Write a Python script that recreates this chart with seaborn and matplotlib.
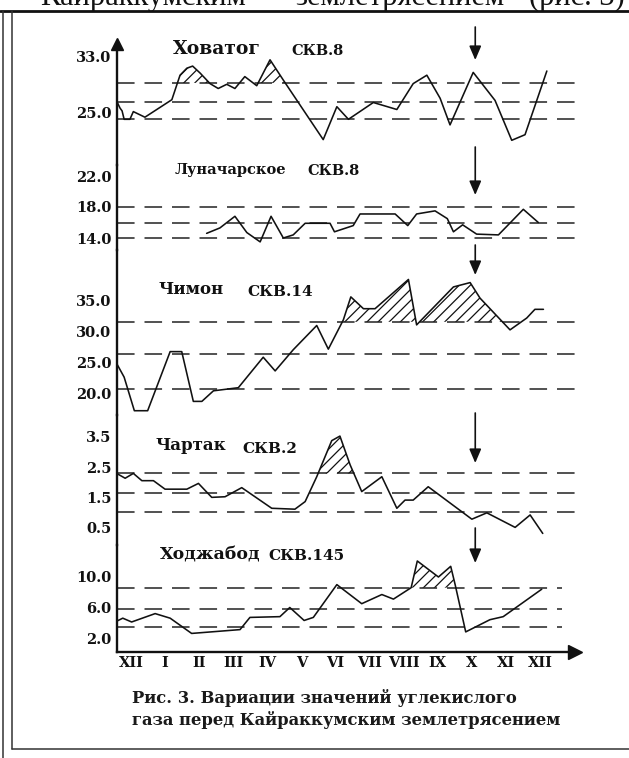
import matplotlib
matplotlib.use("Agg")
import matplotlib.pyplot as plt
from matplotlib.lines import Line2D
import seaborn as sns
import numpy as np

# ---------------- data ----------------
month_labels = ["XII", "I", "II", "III", "IV", "V", "VI", "VII", "VIII", "IX", "X", "XI", "XII"]
quake_month = 10.6

hov_t = [0.10, 0.18, 0.24, 0.30, 0.47, 0.57, 0.91, 1.70, 1.94, 2.14, 2.31, 2.53, 2.82, 3.06, 3.31,
         3.55, 3.84, 4.19, 4.58, 4.97, 6.14, 6.54, 6.88, 7.61, 8.30, 8.78, 9.18, 9.57, 9.86, 10.54,
         11.18, 11.67, 12.06, 12.70]
hov_v = [26.5, 25.7, 25.3, 24.1, 24.1, 25.2, 24.4, 26.9, 30.4, 31.4, 31.7, 30.7, 29.2, 28.5, 29.1,
         28.5, 30.2, 28.9, 32.6, 29.7, 21.2, 25.9, 24.1, 26.5, 25.5, 29.2, 30.4, 27.1, 23.3, 30.8,
         26.8, 21.1, 21.9, 31.0]
hov_levels = [29.3, 26.6, 24.1]
hov_hatch = [(1.5, 3.0), (4.3, 6.5)]

lun_t = [2.72, 3.11, 3.55, 3.90, 4.29, 4.61, 4.97, 5.26, 5.61, 6.34, 6.47, 7.02, 7.22, 8.25, 8.62,
         8.88, 9.42, 9.78, 9.96, 10.23, 10.64, 11.28, 12.01, 12.45]
lun_v = [14.6, 15.3, 16.8, 14.7, 13.5, 16.8, 14.0, 14.4, 15.9, 15.9, 14.8, 15.6, 17.1, 17.1, 15.6,
         17.1, 17.5, 16.5, 14.8, 15.7, 14.5, 14.4, 17.7, 16.0]
lun_levels = [18.0, 16.0, 14.0]
lun_hatch = []

chi_t = [0.08, 0.30, 0.60, 0.99, 1.65, 1.99, 2.33, 2.58, 2.92, 3.65, 4.38, 4.73, 5.26, 5.95, 6.29,
         6.73, 6.95, 7.32, 7.66, 8.64, 8.88, 9.96, 10.45, 10.74, 11.62, 12.11, 12.35, 12.60]
chi_v = [24.8, 22.6, 17.2, 17.2, 26.7, 26.7, 18.7, 18.7, 20.4, 20.9, 25.8, 23.6, 27.0, 30.9, 27.1,
         31.8, 35.5, 33.6, 33.6, 38.3, 31.0, 37.1, 37.8, 35.3, 30.2, 32.1, 33.5, 33.5]
chi_levels = [31.5, 26.3, 20.7]
chi_hatch = [(6.0, 11.5)]

cha_t = [0.08, 0.33, 0.57, 0.82, 1.16, 1.50, 2.14, 2.48, 2.87, 3.26, 3.75, 4.63, 5.31, 5.61, 5.95,
         6.39, 6.63, 6.93, 7.27, 7.86, 8.30, 8.54, 8.78, 9.22, 10.50, 10.94, 11.77, 12.21, 12.58]
cha_v = [2.30, 2.14, 2.30, 2.06, 2.06, 1.78, 1.78, 1.97, 1.51, 1.53, 1.83, 1.15, 1.12, 1.37, 2.19,
         3.38, 3.53, 2.58, 1.70, 2.19, 1.15, 1.42, 1.42, 1.86, 0.79, 1.00, 0.52, 0.93, 0.32]
cha_levels = [2.30, 1.66, 1.04]
cha_hatch = [(5.5, 7.5)]

kho_t = [0.08, 0.26, 0.52, 1.21, 1.65, 2.28, 3.70, 3.99, 4.87, 5.16, 5.58, 5.85, 6.54, 7.27, 7.86,
         8.20, 8.72, 8.90, 9.52, 9.88, 10.01, 10.32, 11.03, 11.42, 12.55]
kho_v = [4.2, 4.6, 4.1, 5.2, 4.6, 2.6, 3.1, 4.7, 4.8, 6.0, 4.3, 4.7, 9.0, 6.5, 7.7,
         7.1, 8.6, 12.1, 10.0, 11.4, 9.0, 2.8, 4.4, 4.8, 8.4]
kho_levels = [8.6, 5.8, 3.5]
kho_hatch = [(8.0, 11.0)]

# ---------------- style ----------------
sns.set_style("white")
plt.rcParams["font.family"] = ["DejaVu Serif"]
plt.rcParams["hatch.linewidth"] = 0.9
plt.rcParams["hatch.color"] = "#111111"
INK = "#111111"

W, H = 629, 758
X0, DX = 113.9, 34.09          # pixel of month 0 and pixels per month
AX_L, AX_R = 117, 575


def fx(px):
    return px / W


def fy(py):
    return 1 - py / H


fig = plt.figure(figsize=(W / 100, H / 100), dpi=100)
fig.patch.set_facecolor("white")

panels = [
    dict(t=hov_t, v=hov_v, levels=hov_levels, hatch=hov_hatch, end=583,
         ref=(33.0, 57, 7.0), top=44, bot=165,
         ticks=[33.0, 31.3, 25.0, 22.3], labels=["33.0", "", "25.0", ""],
         name=("Ховатог", 217, 49, 13.5), well=("СКВ.8", 318, 51, 10.5), arrow=(27, 60)),
    dict(t=lun_t, v=lun_v, levels=lun_levels, hatch=lun_hatch, end=580,
         ref=(18.0, 207, 7.75), top=165, bot=250,
         ticks=[22, 20, 18, 16, 14], labels=["22.0", "", "18.0", "", "14.0"],
         name=("Луначарское", 230, 170, 10.5), well=("СКВ.8", 333, 171, 10.5), arrow=(147, 195)),
    dict(t=chi_t, v=chi_v, levels=chi_levels, hatch=chi_hatch, end=583,
         ref=(35.0, 300, 6.22), top=250, bot=415,
         ticks=[35, 30, 25, 20], labels=["35.0", "30.0", "25.0", "20.0"],
         name=("Чимон", 191, 289, 12), well=("СКВ.14", 280, 292, 11), arrow=(245, 275)),
    dict(t=cha_t, v=cha_v, levels=cha_levels, hatch=cha_hatch, end=578,
         ref=(3.5, 437, 30.33), top=415, bot=545,
         ticks=[3.5, 3.0, 2.5, 2.0, 1.5, 1.0, 0.5], labels=["3.5", "", "2.5", "", "1.5", "", "0.5"],
         name=("Чартак", 191, 445, 12), well=("СКВ.2", 270, 449, 11), arrow=(413, 463)),
    dict(t=kho_t, v=kho_v, levels=kho_levels, hatch=kho_hatch, end=562,
         ref=(10.0, 577, 7.625), top=545, bot=652,
         ticks=[12, 10, 8, 6, 4, 2], labels=["", "10.0", "", "6.0", "", "2.0"],
         name=("Ходжабод", 210, 555, 12.5), well=("СКВ.145", 306, 556, 11), arrow=(528, 563)),
]

axes = []
for i, p in enumerate(panels):
    top, bot = p["top"], p["bot"]
    ax = fig.add_axes([fx(AX_L), fy(bot), fx(AX_R) - fx(AX_L), (bot - top) / H])
    ax.set_facecolor("none")
    rv, rpx, k = p["ref"]
    ax.set_xlim((AX_L - X0) / DX, (AX_R - X0) / DX)
    ax.set_ylim(rv - (bot - rpx) / k, rv + (rpx - top) / k)

    # reference (dashed) levels
    xmax = (p["end"] - AX_L) / (AX_R - AX_L)
    for lvl in p["levels"]:
        ax.axhline(lvl, xmin=0, xmax=xmax, color="#222222", lw=1.1,
                   dashes=(11.5, 6.5), clip_on=False, zorder=1)

    # hatched anomalies
    t = np.asarray(p["t"])
    v = np.asarray(p["v"])
    for (a, b) in p["hatch"]:
        thr = p["levels"][0]
        mask = (v > thr) & (t >= a) & (t <= b)
        ax.fill_between(t, v, thr, where=mask, interpolate=True,
                        facecolor="none", edgecolor=INK, hatch="///", lw=0, zorder=2)

    sns.lineplot(x=p["t"], y=p["v"], ax=ax, color=INK, lw=1.15,
                 estimator=None, sort=False, zorder=3)
    ax.set_xlabel("")
    ax.set_ylabel("")

    # spines & ticks
    for s in ["top", "right", "bottom"]:
        ax.spines[s].set_visible(False)
    ax.spines["left"].set_linewidth(1.7)
    ax.spines["left"].set_color(INK)
    ax.set_yticks(p["ticks"])
    ax.set_yticklabels(p["labels"], fontweight="bold", fontsize=10.5)
    ax.tick_params(axis="y", direction="in", length=6, width=0.9, pad=4, colors=INK)
    ax.set_xticks([])

    # earthquake arrow
    a_top, a_tip = p["arrow"]
    ax.annotate("", xy=(quake_month, (bot - a_tip) / (bot - top)),
                xytext=(quake_month, (bot - a_top) / (bot - top)),
                xycoords=("data", "axes fraction"), textcoords=("data", "axes fraction"),
                annotation_clip=False,
                arrowprops=dict(arrowstyle="-|>,head_length=0.7,head_width=0.3",
                                color=INK, lw=1.2, mutation_scale=12,
                                shrinkA=0, shrinkB=0))

    # panel titles
    nm, nx, ny, ns = p["name"]
    fig.text(fx(nx), fy(ny), nm, ha="center", va="center", fontsize=ns,
             fontweight="bold", color=INK)
    wn, wx, wy, ws = p["well"]
    fig.text(fx(wx), fy(wy), wn, ha="center", va="center", fontsize=ws,
             fontweight="bold", color=INK)
    axes.append(ax)

# y-axis arrow head
axes[0].plot([0], [1], marker="^", ms=8, color=INK, transform=axes[0].transAxes,
             clip_on=False)

# x axis on the bottom panel
axb = axes[-1]
axb.spines["bottom"].set_visible(True)
axb.spines["bottom"].set_linewidth(1.7)
axb.spines["bottom"].set_color(INK)
axb.set_xticks(np.arange(1, 13))
axb.set_xticklabels([])
axb.set_xticks(np.arange(13) + 0.5, minor=True)
axb.set_xticklabels(month_labels, minor=True, fontweight="bold", fontsize=10.5)
axb.tick_params(axis="x", which="major", direction="in", length=8.5, width=1.0, colors=INK)
axb.tick_params(axis="x", which="minor", length=0, pad=3, colors=INK)
axb.plot([1], [0], marker=">", ms=10, color=INK, transform=axb.transAxes, clip_on=False)

# caption
fig.text(fx(132), fy(698), "Рис. 3. Вариации значений углекислого", ha="left", va="center",
         fontsize=11.8, fontweight="bold", color="#1a1a1a")
fig.text(fx(132), fy(720), "газа перед Кайраккумским землетрясением", ha="left", va="center",
         fontsize=11.8, fontweight="bold", color="#1a1a1a")

# text of the surrounding page (cut by the top edge, as in the source scan)
for s, x in [("Кайраккумским", 40), ("землетрясением", 295), ("(рис. 3)", 529)]:
    fig.text(fx(x), fy(5), s, ha="left", va="baseline", fontsize=22,
             family=["Liberation Serif", "DejaVu Serif"], color="#111111")

# frame lines
frame = "#333333"
fig.add_artist(Line2D([0, 1], [fy(11), fy(11)], transform=fig.transFigure, color="#111111", lw=2.0))
fig.add_artist(Line2D([fx(3), fx(3)], [fy(11), 0], transform=fig.transFigure, color=frame, lw=1.1))
fig.add_artist(Line2D([fx(12), fx(12)], [fy(11), fy(749)], transform=fig.transFigure, color=frame, lw=1.1))
fig.add_artist(Line2D([fx(12), 1], [fy(749), fy(749)], transform=fig.transFigure, color=frame, lw=1.1))

fig.savefig("out.png", dpi=100, facecolor="white")
